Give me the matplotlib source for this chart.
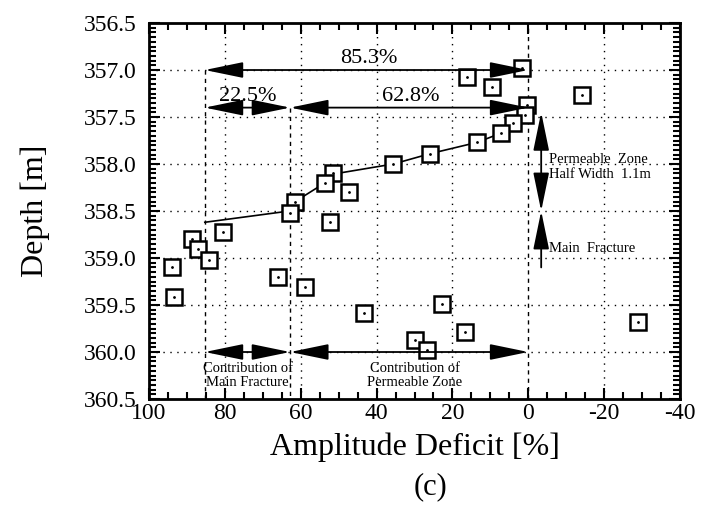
import numpy as np
import matplotlib
matplotlib.use('Agg')
import matplotlib.pyplot as plt
from matplotlib.ticker import MultipleLocator

plt.rcParams['font.family'] = ['Liberation Serif', 'DejaVu Serif']
plt.rcParams['axes.unicode_minus'] = False

# measured points (amplitude deficit %, depth m)
deficit = [16.1, 1.6, 9.5, 0.3, 0.8, 4.0, 7.1, 13.5, 25.9, 35.6, 51.5, 47.2, 53.6,
           52.2, 61.5, 62.8, 80.5, 88.7, 87.1, 84.2, 93.9, 93.4, 66.0, 58.8,
           43.3, 22.7, 16.6, 29.8, 26.6, -28.8, -14.2]
depth = [357.07, 356.98, 357.18, 357.37, 357.48, 357.56, 357.67, 357.77, 357.89,
         358.0, 358.1, 358.3, 358.2, 358.62, 358.4, 358.52, 358.72, 358.8, 358.9,
         359.02, 359.1, 359.42, 359.2, 359.31, 359.59, 359.49, 359.79, 359.87,
         359.98, 359.68, 357.27]

# trend line
line_x = [85.3, 63.0, 61.5, 53.6, 50.4, 35.6, 25.9, 13.5, 7.1, 4.0, 1.0, 0.0]
line_y = [358.62, 358.5, 358.4, 358.2, 358.1, 358.0, 357.89, 357.77, 357.67,
          357.56, 357.45, 357.37]

total_pct = 85.3
main_pct = 22.5
perm_pct = 62.8
split_x = 62.8
start_x = 85.3
fracture_depth = 358.5
zone_top = 357.45

fig = plt.figure(figsize=(7.11, 5.07), dpi=100)
ax = fig.add_axes([0.2096, 0.213, 0.7468, 0.7416])

dot = (0, (1, 4))
for gx in [80, 60, 40, 20, -20]:
    ax.axvline(gx, color='black', lw=1.0, ls=dot)
for gy in [357.0, 357.5, 358.0, 358.5, 359.0, 359.5, 360.0]:
    ax.axhline(gy, color='black', lw=1.0, ls=dot)

dash = (0, (3, 3))
ax.axvline(0, color='black', lw=1.0, ls=dash)
ax.plot([start_x, start_x], [357.0, 360.5], color='black', lw=1.0, ls=dash)
ax.plot([split_x, split_x], [357.4, 360.5], color='black', lw=1.0, ls=dash)

ax.plot(line_x, line_y, color='black', lw=1.2)
ax.plot(deficit, depth, ls='none', marker='s', ms=12, mfc='white',
        mec='black', mew=1.8)
ax.plot(deficit, depth, ls='none', marker='.', ms=2, color='black')

arrow = dict(arrowstyle='<|-|>,head_length=1.7,head_width=0.35',
             color='black', lw=1.3, mutation_scale=14, shrinkA=0, shrinkB=0)
ax.annotate('', xy=(0, 357.0), xytext=(start_x, 357.0), arrowprops=arrow)
ax.annotate('', xy=(split_x, 357.4), xytext=(start_x, 357.4), arrowprops=arrow)
ax.annotate('', xy=(0, 357.4), xytext=(split_x, 357.4), arrowprops=arrow)
ax.annotate('', xy=(split_x, 360.0), xytext=(start_x, 360.0), arrowprops=arrow)
ax.annotate('', xy=(0, 360.0), xytext=(split_x, 360.0), arrowprops=arrow)
ax.annotate('', xy=(-3.4, zone_top), xytext=(-3.4, fracture_depth), arrowprops=arrow)
ax.annotate('', xy=(-3.4, fracture_depth), xytext=(-3.4, 359.1),
            arrowprops=dict(arrowstyle='-|>,head_length=1.7,head_width=0.35',
                            color='black', lw=1.3, mutation_scale=14,
                            shrinkA=0, shrinkB=0))

ax.text(42, 356.93, '%.1f%%' % total_pct, fontsize=16, ha='center', va='baseline')
ax.text(74, 357.33, '%.1f%%' % main_pct, fontsize=16, ha='center', va='baseline')
ax.text(31, 357.33, '%.1f%%' % perm_pct, fontsize=16, ha='center', va='baseline')
ax.text(74, 360.25, 'Contribution of\nMain Fracture', fontsize=10.5, ha='center',
        va='center', linespacing=1.15)
ax.text(30, 360.25, 'Contribution of\nPermeable Zone', fontsize=10.5, ha='center',
        va='center', linespacing=1.15)
ax.text(-5.5, 358.03, 'Permeable  Zone\nHalf Width  1.1m', fontsize=10.5,
        ha='left', va='center', linespacing=1.15)
ax.text(-5.5, 358.9, 'Main  Fracture', fontsize=10.5, ha='left', va='center')

ax.set_xlim(100, -40)
ax.set_ylim(360.5, 356.5)
ax.xaxis.set_major_locator(MultipleLocator(20))
ax.xaxis.set_minor_locator(MultipleLocator(5))
ax.yaxis.set_major_locator(MultipleLocator(0.5))
ax.yaxis.set_minor_locator(MultipleLocator(0.05))
ax.yaxis.set_major_formatter(plt.FormatStrFormatter('%.1f'))
ax.tick_params(which='both', direction='in', top=True, right=True, width=1.5)
ax.tick_params(which='major', length=8, labelsize=17)
ax.tick_params(axis='y', which='major', pad=9)
ax.tick_params(axis='x', which='major', pad=3)
ax.tick_params(which='minor', length=5)
for s in ax.spines.values():
    s.set_linewidth(2)

ax.set_xlabel('Amplitude Deficit [%]', fontsize=23, labelpad=6)
ax.set_ylabel('Depth [m]', fontsize=23, labelpad=24)
fig.text(0.605, 0.04, '(c)', fontsize=22, ha='center', va='center')

fig.savefig('out.png', dpi=100)
